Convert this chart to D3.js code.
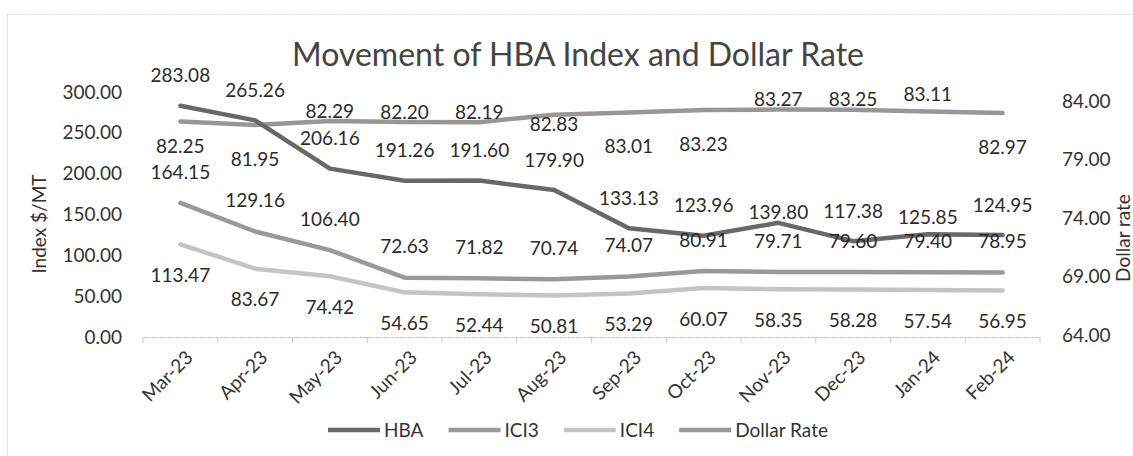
<!DOCTYPE html>
<html lang="en">
<head>
    <meta charset="UTF-8">
    <title>Movement of HBA Index and Dollar Rate</title>
    <style>
        body { margin: 0; background: #fff; }
        svg text { font-family: Lato, "Open Sans", sans-serif; }
    </style>
</head>
<body>
    <svg id="chart" width="1133" height="456"></svg>

    <script src="https://d3js.org/d3.v7.min.js"></script>
    <script>
        // Chart data
        const months = ["Mar-23", "Apr-23", "May-23", "Jun-23", "Jul-23", "Aug-23",
                        "Sep-23", "Oct-23", "Nov-23", "Dec-23", "Jan-24", "Feb-24"];
        const hba = [283.08, 265.26, 206.16, 191.26, 191.60, 179.90, 133.13, 123.96, 139.80, 117.38, 125.85, 124.95];
        const ici3 = [164.15, 129.16, 106.40, 72.63, 71.82, 70.74, 74.07, 80.91, 79.71, 79.60, 79.40, 78.95];
        const ici4 = [113.47, 83.67, 74.42, 54.65, 52.44, 50.81, 53.29, 60.07, 58.35, 58.28, 57.54, 56.95];
        const dollarRate = [82.25, 81.95, 82.29, 82.20, 82.19, 82.83, 83.01, 83.23, 83.27, 83.25, 83.11, 82.97];
        const leftTicks = [0, 50, 100, 150, 200, 250, 300];
        const rightTicks = [64, 69, 74, 79, 84];

        // where each label sits relative to its point
        const hbaLabelSide = ["above", "above", "above", "above", "above", "above",
                              "above", "above", "near", "above", "mid", "above"];
        const dollarLabelSide = ["under", "below", "near", "near", "near", "on",
                                 "below", "below", "near", "near", "mid", "below"];

        const svg = d3.select("#chart");
        const margin = { top: 92, right: 93, bottom: 119, left: 143 };
        const width = 1133 - margin.left - margin.right;
        const height = 456 - margin.top - margin.bottom;
        const g = svg.append("g").attr("transform", `translate(${margin.left},${margin.top})`);

        // chart border
        svg.append("rect")
            .attr("x", 7.5).attr("y", 14.5)
            .attr("width", 1140).attr("height", 460)
            .attr("fill", "none")
            .attr("stroke", "#d6d6d6")
            .attr("stroke-dasharray", "2,1");

        // Scales
        const x = d3.scaleBand().domain(months).range([0, width]);
        const yLeft = d3.scaleLinear().domain([0, 300]).range([height, 0]);
        const yRight = d3.scaleLinear().domain([64, 84]).range([height - 2, 9]);
        const cx = d => x(d) + x.bandwidth() / 2;

        // Left axis
        const leftAxis = g.append("g")
            .call(d3.axisLeft(yLeft).tickValues(leftTicks).tickFormat(d3.format(".2f")).tickSize(0).tickPadding(21));
        leftAxis.select(".domain").remove();
        leftAxis.selectAll("text").attr("font-size", "19px").attr("fill", "#333")
            .style("font-family", "Lato, sans-serif");

        // Right axis
        const rightAxis = g.append("g")
            .attr("transform", `translate(${width},0)`)
            .call(d3.axisRight(yRight).tickValues(rightTicks).tickFormat(d3.format(".2f")).tickSize(0).tickPadding(22));
        rightAxis.select(".domain").remove();
        rightAxis.selectAll("text").attr("font-size", "19px").attr("fill", "#333")
            .style("font-family", "Lato, sans-serif");

        // X axis
        const xAxis = g.append("g")
            .attr("transform", `translate(0,${height})`)
            .call(d3.axisBottom(x).tickSize(0).tickFormat(""));
        xAxis.select(".domain").attr("stroke", "#bdbdbd").attr("stroke-dasharray", "3,1");
        g.append("g").selectAll("line")
            .data(d3.range(months.length + 1))
            .join("line")
            .attr("x1", i => i * x.step()).attr("x2", i => i * x.step())
            .attr("y1", height).attr("y2", height + 6)
            .attr("stroke", "#c8c8c8");

        g.append("g").selectAll("text")
            .data(months)
            .join("text")
            .attr("transform", d => `translate(${cx(d) + 9},${height + 17}) rotate(-45)`)
            .attr("text-anchor", "end")
            .attr("dy", "0.35em")
            .attr("font-size", "19px")
            .attr("fill", "#333")
            .text(d => d);

        // Lines
        const series = [
            { name: "HBA", values: hba, scale: yLeft, color: "#686868" },
            { name: "ICI3", values: ici3, scale: yLeft, color: "#999999" },
            { name: "ICI4", values: ici4, scale: yLeft, color: "#c4c4c4" },
            { name: "Dollar Rate", values: dollarRate, scale: yRight, color: "#979797" }
        ];

        const drawOrder = [series[3], series[2], series[1], series[0]];
        drawOrder.forEach(s => {
            const line = d3.line()
                .x((d, i) => cx(months[i]))
                .y(d => s.scale(d));
            g.append("path")
                .datum(s.values)
                .attr("d", line)
                .attr("fill", "none")
                .attr("stroke", s.color)
                .attr("stroke-width", 4.5)
                .attr("stroke-linejoin", "round")
                .attr("stroke-linecap", "round");
        });

        // Data labels
        const sideOffset = { above: -30, mid: -17, near: -10, on: 10, under: 25, below: 34 };
        function addLabels(values, scale, offsetFn) {
            g.append("g").selectAll("text")
                .data(values)
                .join("text")
                .attr("x", (d, i) => cx(months[i]))
                .attr("y", (d, i) => scale(d) + offsetFn(i))
                .attr("dy", "0.35em")
                .attr("text-anchor", "middle")
                .attr("font-size", "19px")
                .attr("fill", "#2a2a2a")
                .text(d => d3.format(".2f")(d));
        }
        addLabels(hba, yLeft, i => sideOffset[hbaLabelSide[i]]);
        addLabels(ici3, yLeft, () => -31);
        addLabels(ici4, yLeft, () => 31);
        addLabels(dollarRate, yRight, i => sideOffset[dollarLabelSide[i]]);

        // Title
        svg.append("text")
            .attr("x", 578)
            .attr("y", 55)
            .attr("text-anchor", "middle")
            .attr("dy", "0.35em")
            .attr("font-size", "32px")
            .attr("fill", "#444")
            .text("Movement of HBA Index and Dollar Rate");

        // Axis titles
        svg.append("text")
            .attr("transform", "translate(39,224) rotate(-90)")
            .attr("text-anchor", "middle")
            .attr("dy", "0.35em")
            .attr("font-size", "19px")
            .attr("fill", "#333")
            .text("Index $/MT");

        svg.append("text")
            .attr("transform", "translate(1123,238) rotate(-90)")
            .attr("text-anchor", "middle")
            .attr("dy", "0.35em")
            .attr("font-size", "19px")
            .attr("fill", "#333")
            .text("Dollar rate");

        // Legend
        const legend = svg.append("g").attr("transform", "translate(328,430)");
        let lx = 0;
        series.forEach(s => {
            legend.append("line")
                .attr("x1", lx).attr("x2", lx + 52)
                .attr("y1", 0).attr("y2", 0)
                .attr("stroke", s.color)
                .attr("stroke-width", 4.5);
            const t = legend.append("text")
                .attr("x", lx + 56)
                .attr("y", 0)
                .attr("dy", "0.35em")
                .attr("font-size", "19px")
                .attr("fill", "#333")
                .text(s.name);
            lx += 56 + t.node().getComputedTextLength() + 25;
        });
    </script>
</body>
</html>
